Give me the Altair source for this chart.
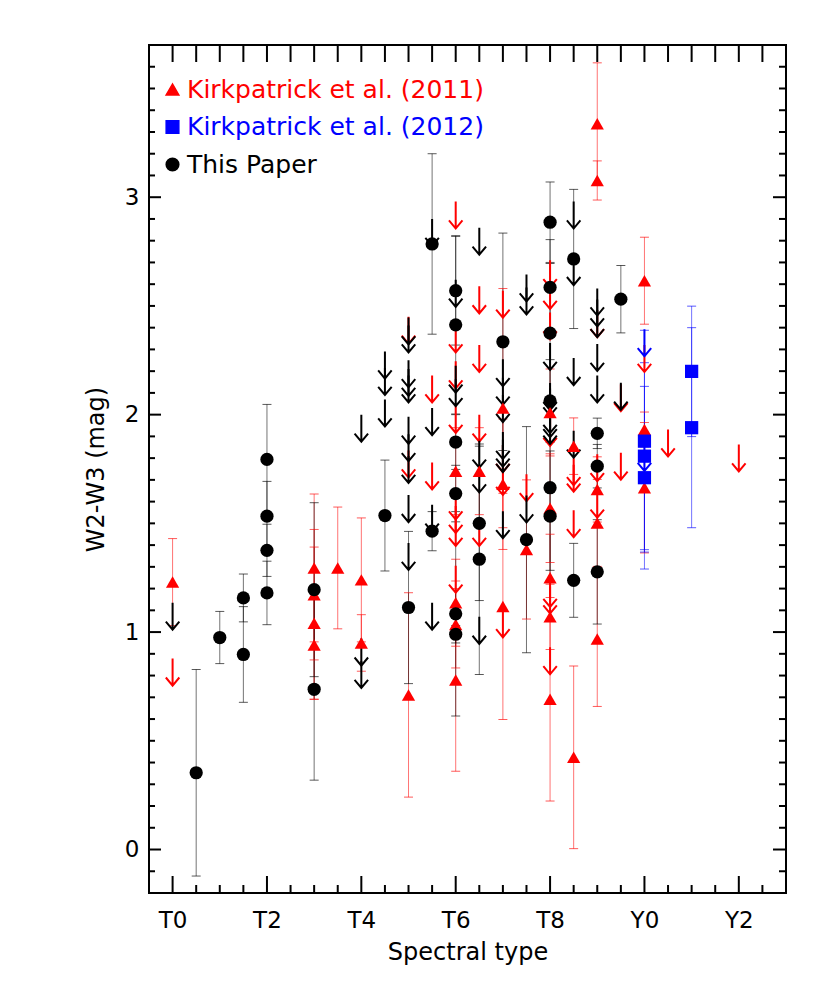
import altair as alt
import pandas as pd

# ---------------- data ----------------
GROUPS = ["Kirkpatrick et al. (2011)", "Kirkpatrick et al. (2012)", "This Paper"]
GROUP_COLORS = ["#ff0000", "#0000ff", "#000000"]
GROUP_SHAPES = ["triangle-up", "square", "circle"]

# Kirkpatrick et al. (2011) detections: spectral type (T0=0, Y0=10), W2-W3, error
k11_sp = [0, 3, 3, 3, 3, 3.5, 4, 4, 5, 6, 6, 6, 6, 6.5, 7, 7, 7, 7.5,
          8, 8, 8, 8, 8, 8.5, 8.5, 9, 9, 9, 9, 9, 10, 10, 10]
k11_val = [1.23, 1.295, 1.172, 1.041, 0.941, 1.295, 1.24, 0.95, 0.711, 1.74, 1.135, 1.035, 0.78,
           1.74, 2.03, 1.68, 1.118, 1.38, 2.01, 1.57, 1.25, 1.07, 0.691, 1.855, 0.424,
           3.338, 3.077, 1.656, 1.502, 0.968, 2.616, 1.932, 1.664]
k11_err = [0.20, 0.34, 0.30, 0.35, 0.25, 0.28, 0.285, 0.13, 0.47, 0.20, 0.20, 0.20, 0.42,
           0.20, 0.55, 0.30, 0.52, 0.32, 0.20, 0.25, 0.20, 0.15, 0.468, 0.13, 0.42,
           0.28, 0.09, 0.15, 0.20, 0.31, 0.20, 0.08, 0.30]
# Kirkpatrick et al. (2011) upper limits
k11_lim_sp = [0, 5, 5, 5.5, 5.5, 6, 6, 6, 6, 6, 6, 6, 6, 6.5, 6.5, 6.5, 6.5,
              7, 7, 7, 7, 7.5, 8, 8, 8, 8, 8, 8, 8, 8.5, 8.5, 8.5,
              9, 9, 9, 9.5, 9.5, 10, 10.5, 12]
k11_lim = [0.878, 2.45, 1.835, 2.18, 1.78, 2.98, 2.41, 2.245, 2.04, 1.642, 1.58, 1.52, 1.305,
           2.59, 2.32, 2.0, 1.52, 2.57, 1.86, 1.755, 1.10, 1.726,
           2.71, 2.61, 2.47, 1.98, 1.24, 1.21, 0.93, 1.80, 1.77, 1.56,
           2.48, 1.818, 1.65, 2.14, 1.825, 2.32, 1.932, 1.863]

# Kirkpatrick et al. (2012)
k12_sp = [10, 10, 10, 11, 11]
k12_val = [1.878, 1.809, 1.71, 2.199, 1.94]
k12_err = [0.51, 0.43, 0.42, 0.30, 0.46]
k12_lim_sp = [10, 10]
k12_lim = [2.393, 1.865]

# This paper
tp_sp = [0.5, 1, 1.5, 1.5, 2, 2, 2, 2, 3, 3, 4.5, 5, 5.5, 5.5,
         6, 6, 6, 6, 6, 6, 6.5, 6.5, 7, 7.5, 8, 8, 8, 8, 8, 8,
         8.5, 8.5, 9, 9, 9, 9.5]
tp_val = [0.353, 0.975, 1.157, 0.897, 1.794, 1.533, 1.376, 1.18, 1.195, 0.737, 1.536, 1.113,
          2.785, 1.464, 2.57, 2.413, 1.874, 1.637, 1.084, 0.99, 1.50, 1.335, 2.335, 1.425,
          2.885, 2.585, 2.375, 2.063, 1.664, 1.533, 2.716, 1.238, 1.914, 1.763, 1.277, 2.531]
tp_err = [0.475, 0.12, 0.11, 0.22, 0.253, 0.16, 0.12, 0.146, 0.40, 0.418, 0.255, 0.35,
          0.415, 0.09, 0.25, 0.41, 0.126, 0.13, 0.47, 0.04, 0.355, 0.53, 0.50, 0.52,
          0.185, 0.22, 0.32, 0.19, 0.38, 0.30, 0.32, 0.17, 0.07, 0.10, 0.24, 0.155]
tp_lim_sp = [0, 4, 4, 4, 4.5, 4.5, 4.5, 5, 5, 5, 5, 5, 5, 5, 5, 5, 5,
             5.5, 5.5, 5.5, 5.5, 6, 6, 6, 6.5, 6.5, 6.5, 6.5,
             7, 7, 7, 7, 7, 7, 7, 7.5, 7.5, 7.5, 8, 8, 8, 8, 8, 8,
             8.5, 8.5, 8.5, 8.5, 9, 9, 9, 9, 9, 9.5]
tp_lim = [1.135, 2.0, 0.97, 0.867, 2.29, 2.215, 2.07,
          2.447, 2.41, 2.25, 2.21, 2.18, 1.99, 1.91, 1.81, 1.63, 1.41,
          2.9, 2.03, 1.586, 1.135, 2.62, 2.225, 2.163, 2.86, 1.88, 1.766, 1.07,
          2.255, 2.17, 2.09, 1.92, 1.885, 1.86, 1.556, 2.645, 2.585, 1.628,
          2.33, 2.145, 2.12, 2.04, 2.02, 1.99, 2.98, 2.72, 2.26, 1.926,
          2.58, 2.53, 2.48, 2.325, 2.18, 2.147]

# axis ticks / labels
x_label_vals = [0, 2, 4, 6, 8, 10, 12]
x_label_text = ["T0", "T2", "T4", "T6", "T8", "Y0", "Y2"]
x_minor = [0.5, 1, 1.5, 2.5, 3, 3.5, 4.5, 5, 5.5, 6.5, 7, 7.5, 8.5, 9, 9.5,
           10.5, 11, 11.5, 12.5]
x_top = [0, 0.5, 1, 1.5, 2, 2.5, 3, 3.5, 4, 4.5, 5, 5.5, 6, 6.5, 7, 7.5, 8, 8.5,
         9, 9.5, 10, 10.5, 11, 11.5, 12, 12.5]
y_major = [0, 1, 2, 3]
y_minor = [-0.1, 0.1, 0.2, 0.3, 0.4, 0.5, 0.6, 0.7, 0.8, 0.9,
           1.1, 1.2, 1.3, 1.4, 1.5, 1.6, 1.7, 1.8, 1.9,
           2.1, 2.2, 2.3, 2.4, 2.5, 2.6, 2.7, 2.8, 2.9,
           3.1, 3.2, 3.3, 3.4, 3.5, 3.6]

# ---------------- tables ----------------
pts = pd.concat([
    pd.DataFrame({"group": GROUPS[0], "sp": k11_sp, "val": k11_val, "err": k11_err}),
    pd.DataFrame({"group": GROUPS[1], "sp": k12_sp, "val": k12_val, "err": k12_err}),
    pd.DataFrame({"group": GROUPS[2], "sp": tp_sp, "val": tp_val, "err": tp_err}),
], ignore_index=True)
pts["lo"] = pts["val"] - pts["err"]
pts["hi"] = pts["val"] + pts["err"]

lims = pd.concat([
    pd.DataFrame({"group": GROUPS[0], "sp": k11_lim_sp, "val": k11_lim}),
    pd.DataFrame({"group": GROUPS[1], "sp": k12_lim_sp, "val": k12_lim}),
    pd.DataFrame({"group": GROUPS[2], "sp": tp_lim_sp, "val": tp_lim}),
], ignore_index=True)

# ---------------- chart ----------------
W, H = 637, 848
FONT = "DejaVu Sans"
xs = alt.Scale(domain=[-0.5, 13.0], nice=False, zero=False)
ys = alt.Scale(domain=[-0.2, 3.7], nice=False, zero=False)
cscale = alt.Scale(domain=GROUPS, range=GROUP_COLORS)
sscale = alt.Scale(domain=GROUPS, range=GROUP_SHAPES)

leg = alt.Legend(orient="none", legendX=11, legendY=32, title=None,
                 labelFont=FONT, labelFontSize=25, labelLimit=0, symbolSize=160,
                 symbolOpacity=1, rowPadding=11.5, labelOffset=2, padding=0,
                 labelColor={"expr": "scale('color', datum.value)"})

label_expr = "[" + ",".join("'%s'" % s for s in x_label_text) + "][indexof([" + \
    ",".join(str(v) for v in x_label_vals) + "], datum.value)]"

x_axis = alt.Axis(values=x_label_vals, labelExpr=label_expr, ticks=False, tickSize=0,
                  domain=False, grid=False, labelPadding=16, title="Spectral type",
                  titlePadding=8)
y_axis = alt.Axis(values=y_major, format="d", ticks=False, tickSize=0, domain=False,
                  grid=False, labelPadding=10, title="W2-W3 (mag)", titlePadding=16)


def X(field):
    return alt.X(field, type="quantitative", scale=xs, axis=x_axis)


def Y(field):
    return alt.Y(field, type="quantitative", scale=ys, axis=y_axis)


COLOR = alt.Color("group:N", scale=cscale, legend=leg)

base_pts = alt.Chart(pts)

errbars = base_pts.mark_rule(strokeWidth=1, opacity=0.55).encode(
    x=X("sp"), y=Y("lo"), y2="hi:Q", color=COLOR)
caps_lo = base_pts.mark_tick(orient="horizontal", size=9, thickness=1, opacity=0.65).encode(
    x=X("sp"), y=Y("lo"), color=COLOR)
caps_hi = base_pts.mark_tick(orient="horizontal", size=9, thickness=1, opacity=0.65).encode(
    x=X("sp"), y=Y("hi"), color=COLOR)

ARROW = "M0,0L0,2M-0.5,1.4L0,2L0.5,1.4"
arrows = alt.Chart(lims).mark_point(shape=ARROW, size=729, filled=False,
                                    strokeWidth=2, opacity=1).encode(
    x=X("sp"), y=Y("val"), color=COLOR)

points = base_pts.mark_point(filled=True, opacity=1, size=175).encode(
    x=X("sp"), y=Y("val"), color=COLOR,
    shape=alt.Shape("group:N", scale=sscale, legend=leg),
)


def xticks(vals, y0, y1):
    return alt.Chart(pd.DataFrame({"t": vals})).mark_rule(color="black", strokeWidth=2).encode(
        x=X("t"), y=alt.value(y0), y2=alt.value(y1))


def yticks(vals, x0, x1):
    return alt.Chart(pd.DataFrame({"t": vals})).mark_rule(color="black", strokeWidth=2).encode(
        y=Y("t"), x=alt.value(x0), x2=alt.value(x1))


frame_ticks = [
    xticks(x_label_vals, H, H - 17),
    xticks(x_minor, H, H - 8),
    xticks(x_top, 0, 17),
    yticks(y_major, 0, 12),
    yticks(y_minor, 0, 6),
    yticks(y_major, W, W - 13),
    yticks(y_minor, W, W - 7),
]

chart = alt.layer(errbars, caps_lo, caps_hi, arrows, points, *frame_ticks).properties(
    width=W, height=H,
    autosize=alt.AutoSizeParams(type="none"),
    padding={"left": 141, "top": 37, "right": 36, "bottom": 87},
    background="white",
).configure_view(
    stroke="black", strokeWidth=2
).configure_axis(
    labelFont=FONT, labelFontSize=23, labelColor="black",
    titleFont=FONT, titleFontSize=24, titleFontWeight="normal", titleColor="black",
).configure_legend(
    labelFont=FONT, labelFontSize=25,
)

chart.save("out.html", embed_options={"renderer": "svg", "actions": False})
